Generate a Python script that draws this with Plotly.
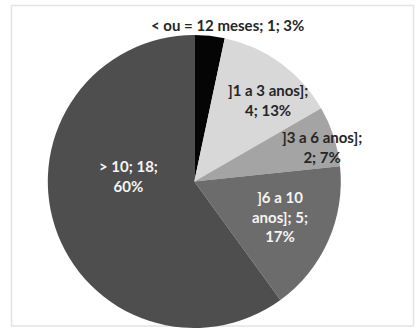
import math
import textwrap
import plotly.graph_objects as go

# Tempo de serviço: faixas e número de respondentes
categories = ["< ou = 12 meses", "]1 a 3 anos]", "]3 a 6 anos]", "]6 a 10 anos]", "> 10"]
counts = [1, 4, 2, 5, 18]

# Styling per slice
slice_colors = ["#050505", "#d8d8d8", "#a4a4a4", "#6c6c6c", "#4e4e4e"]
text_colors = ["#262626", "#262626", "#262626", "#f4f4f4", "#f4f4f4"]
wrap_widths = [30, 14, 14, 9, 9]
# label placement: (radius fraction, angle offset in degrees from slice middle)
label_place = [(1.09, 6), (0.75, 6), (0.905, 3), (0.63, -2), (0.45, 23)]

W, H = 418, 330
CX, CY, R = 194.3, 181.5, 146.5

total = sum(counts)

fig = go.Figure(
    go.Pie(
        labels=categories,
        values=counts,
        sort=False,
        direction="clockwise",
        rotation=0,
        marker=dict(colors=slice_colors, line=dict(width=0)),
        textinfo="none",
        hoverinfo="label+value+percent",
        showlegend=False,
        domain=dict(x=[(CX - R) / W, (CX + R) / W], y=[1 - (CY + R) / H, 1 - (CY - R) / H]),
    )
)

annotations = []
cum = 0
for cat, n, tc, ww, (rf, off) in zip(categories, counts, text_colors, wrap_widths, label_place):
    mid = (cum + n / 2) / total * 360
    cum += n
    pct = round(100 * n / total)
    text = f"{cat}; {n}; {pct}%"
    lines = textwrap.wrap(text, ww)
    a = math.radians(mid + off)
    px = CX + rf * R * math.sin(a)
    py = CY - rf * R * math.cos(a)
    annotations.append(
        dict(
            x=px / W,
            y=1 - py / H,
            xref="paper",
            yref="paper",
            text="<br>".join(f"<b>{ln}</b>" for ln in lines),
            showarrow=False,
            xanchor="center",
            yanchor="middle",
            align="center",
            font=dict(family="Lato", size=15, color=tc),
        )
    )

fig.update_layout(
    width=W,
    height=H,
    margin=dict(l=0, r=0, t=0, b=0),
    paper_bgcolor="white",
    plot_bgcolor="white",
    annotations=annotations,
    shapes=[
        dict(
            type="rect",
            xref="paper",
            yref="paper",
            x0=11.5 / W,
            x1=413.5 / W,
            y0=1 - 326 / H,
            y1=1 - 5.5 / H,
            line=dict(color="#e4e4e4", width=1.5),
            layer="below",
        )
    ],
)

fig.write_html("out.html")
